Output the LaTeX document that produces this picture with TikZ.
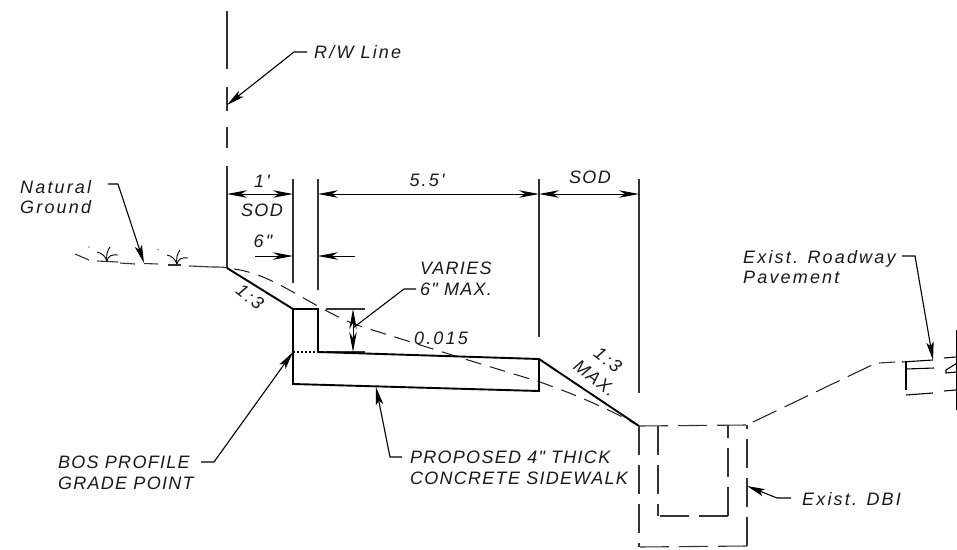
\documentclass[tikz,border=0pt]{standalone}
\usepackage{fontspec}
\setmainfont{Liberation Sans}
\newfontfamily\labFont[LetterSpace=12]{Liberation Sans}
\newfontfamily\capFont[LetterSpace=7]{Liberation Sans}
\usetikzlibrary{arrows.meta}
\tikzstyle{thinLine} = [line width=1.1pt, black!80]
\tikzstyle{thickLine} = [line width=1.9pt, line join=miter]
\tikzstyle{dashLine} = [line width=1pt, black!90, dash pattern=on 16pt off 9pt]
\tikzstyle{dbiLine} = [line width=1.1pt, black!80, dash pattern=on 29pt off 10pt]
\tikzstyle{dimLine} = [line width=1pt, {Stealth[length=20pt,width=7.5pt,inset=6pt]}-{Stealth[length=20pt,width=7.5pt,inset=6pt]}]
\tikzstyle{pointLine} = [line width=1pt, -{Stealth[length=20pt,width=7.5pt,inset=6pt]}]
\tikzstyle{leaderLine} = [line width=1.1pt, -{Stealth[length=18pt,width=7.5pt,inset=4pt]}]
\tikzstyle{labelText} = [inner sep=0pt, align=left, black!90, font={\labFont\itshape\fontsize{18}{20.5}\selectfont}]
\tikzstyle{capsText} = [labelText, font={\capFont\itshape\fontsize{18}{20.5}\selectfont}]

\begin{document}
\begin{tikzpicture}[x=1pt, y=-1pt]
    \useasboundingbox (0,0) rectangle (957,549);

    % key points of the section
    \coordinate (hinge) at (227,268);
    \coordinate (curbTL) at (293,309);
    \coordinate (curbTR) at (318,309);
    \coordinate (curbGut) at (318,352);
    \coordinate (curbPt) at (293,352);
    \coordinate (curbBL) at (293,384);
    \coordinate (walkTR) at (539,359);
    \coordinate (walkBR) at (539,391);
    \coordinate (dbiTL) at (639,426);
    \coordinate (dbiTR) at (747,425);
    \coordinate (dbiBL) at (639,547);
    \coordinate (dbiBR) at (747,546);
    \coordinate (inTL) at (658,426);
    \coordinate (inTR) at (728,425);
    \coordinate (inBL) at (658,516);
    \coordinate (inBR) at (728,516);

    % labels
    \node[labelText, anchor=west] (rwLabel) at (314,52) {R/W Line};
    \node[labelText, anchor=west] (groundLabel) at (20,197) {Natural\\Ground};
    \node[labelText] (oneFt) at (262,181) {1'};
    \node[capsText] (sodA) at (262,210) {SOD};
    \node[labelText] (sixIn) at (263,241) {6"};
    \node[labelText] (walkW) at (427,180) {5.5'};
    \node[capsText] (sodB) at (590,177) {SOD};
    \node[capsText, anchor=west] (variesLabel) at (420,279) {VARIES\\6" MAX.};
    \node[labelText] (slopeVal) at (441,338) {0.015};
    \node[labelText, rotate=-38] (slopeA) at (250,297) {1:3};
    \node[labelText, rotate=-38] (slopeB) at (608,360) {1:3};
    \node[capsText, rotate=-38] (slopeMax) at (595,378) {MAX.};
    \node[capsText, anchor=west] (bosLabel) at (58,473) {BOS PROFILE\\GRADE POINT};
    \node[capsText, anchor=west] (walkLabel) at (410,468) {PROPOSED 4" THICK\\CONCRETE SIDEWALK};
    \node[labelText, anchor=west] (roadLabel) at (743,267) {Exist. Roadway\\Pavement};
    \node[labelText, anchor=west] (dbiLabel) at (802,499) {Exist. DBI};

    % R/W line
    \draw[thinLine] (227,11)--(227,69);
    \draw[thinLine] (227,87)--(227,111);
    \draw[thinLine] (227,127)--(227,148);
    \draw[thinLine] (227,166)--(hinge);

    % extension lines
    \draw[thinLine] (293,179)--(293,283);
    \draw[thinLine] (318,179)--(318,290);
    \draw[thinLine] (539,179)--(539,337);
    \draw[thinLine] (639,179)--(639,393);
    \draw[thinLine] (326,309)--(365,309);
    \draw[thinLine] (326,352)--(365,352);

    % dimensions
    \draw[dimLine] (227,194)--(293,194);
    \draw[dimLine] (318,194)--(539,194);
    \draw[dimLine] (539,194)--(639,194);
    \draw[pointLine] (255,256)--(293,256);
    \draw[pointLine] (355,256)--(318,256);
    \draw[dimLine] (353,309)--(353,352);

    % natural ground
    \draw[thinLine] (75,254)--(89,260);
    \draw[thinLine] (97,261)--(118,262);
    \draw[thinLine] (120,263)--(135,264);
    \draw[thinLine] (144,263.5)--(158,264);
    \draw[thinLine] (168,265)--(181,265);
    \draw[thinLine] (189,266)--(213,267);
    \draw[thinLine] (213,267) .. controls (221,267) and (224,267) .. (hinge);
    \foreach \tx/\ty in {107/261, 177/264}{
        \draw[line width=0.9pt] (\tx,\ty) .. controls (\tx-2,\ty-5) and (\tx-5,\ty-8) .. (\tx-10,\ty-9);
        \draw[line width=0.9pt] (\tx,\ty) .. controls (\tx-1,\ty-5) and (\tx,\ty-10) .. (\tx+3,\ty-14);
        \draw[line width=0.9pt] (\tx,\ty) .. controls (\tx+1,\ty-5) and (\tx+5,\ty-7) .. (\tx+11,\ty-6);
    }
    \fill (89,247) circle (0.7pt);
    \fill (158,249.5) circle (0.7pt);

    % existing ground
    \draw[dashLine] (234,269) .. controls (255,272) and (272,280) .. (300,296)
        -- (323,309) .. controls (340,318) and (350,323) .. (363,327)
        -- (468,360) -- (540,382) .. controls (565,391) and (600,404) .. (dbiTL);

    % sidewalk and slopes
    \draw[thickLine] (hinge)--(curbTL)--(curbTR)--(curbGut)--(walkTR)--(walkBR)--(curbBL)--(curbTL);
    \draw[thickLine] (walkTR)--(dbiTL);
    \draw[line width=1.9pt, dash pattern=on 2pt off 2pt] (curbPt)--(curbGut);

    % DBI
    \draw[dbiLine] (dbiTL)--(dbiBL);
    \draw[dbiLine] (dbiBR)--(dbiBL);
    \draw[dbiLine] (dbiBR)--(dbiTR);
    \draw[dbiLine] (dbiTL)--(dbiTR);
    \draw[dbiLine] (inTL)--(inBL);
    \draw[dbiLine] (inBR)--(inBL);
    \draw[dbiLine] (inBR)--(inTR);

    % roadway
    \draw[dashLine, dash pattern=on 26pt off 9pt] (753,422)--(872,365);
    \draw[thinLine] (879,363)--(895,362);
    \coordinate (roadTip) at (933,360);
    \draw[thinLine, black] (902,362)--(roadTip);
    \draw[thinLine, black] (906,369)--(934,368);
    \draw[thinLine, black] (906,362)--(906,390);
    \draw[thinLine, black] (906,395)--(933,393);
    \draw[thinLine, black] (944,358)--(956,357);
    \draw[thinLine, black] (957,363)--(946,370)--(946,373)--(957,372);
    \draw[thinLine, black] (944,391)--(956,390);
    \draw[thinLine, black] (956.5,330)--(956.5,410);

    % leaders
    \coordinate (rwA) at (307,52);
    \coordinate (rwB) at (294,52);
    \coordinate (rwTip) at (227,105);
    \draw[leaderLine] (rwA)--(rwB)--(rwTip);
    \coordinate (grA) at (108,184);
    \coordinate (grB) at (118,184);
    \coordinate (grTip) at (144,263);
    \draw[leaderLine] (grA)--(grB)--(grTip);
    \coordinate (bosA) at (201,462);
    \coordinate (bosB) at (214,462);
    \draw[leaderLine] (bosA)--(bosB)--(curbPt);
    \coordinate (walkA) at (402,457);
    \coordinate (walkB) at (390,457);
    \coordinate (walkTip) at (376,387);
    \draw[leaderLine] (walkA)--(walkB)--(walkTip);
    \coordinate (rdA) at (902,256);
    \coordinate (rdB) at (915,256);
    \draw[leaderLine] (rdA)--(rdB)--(roadTip);
    \coordinate (dbiA) at (791,498);
    \coordinate (dbiB) at (777,498);
    \coordinate (dbiTip) at (747,486);
    \draw[leaderLine] (dbiA)--(dbiB)--(dbiTip);
    \coordinate (varA) at (416,289);
    \coordinate (varB) at (404,289);
    \coordinate (varTip) at (353,328);
    \draw[line width=1.1pt] (varA)--(varB)--(varTip);
\end{tikzpicture}
\end{document}
